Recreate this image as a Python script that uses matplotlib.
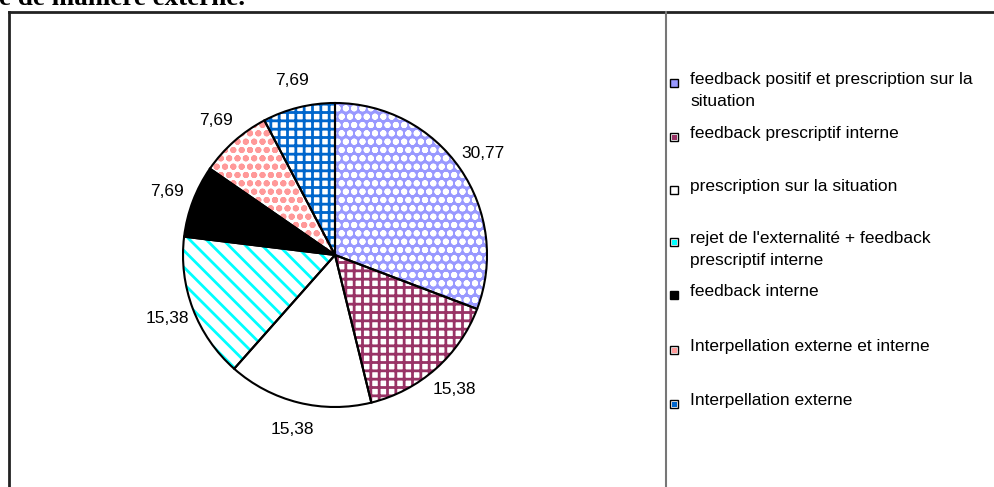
import matplotlib.pyplot as plt
from matplotlib.patches import Rectangle

plt.rcParams['font.family'] = ['Liberation Sans', 'DejaVu Sans']
plt.rcParams['hatch.linewidth'] = 2.0

# data
categories = [
    "feedback positif et prescription sur la\nsituation",
    "feedback prescriptif interne",
    "prescription sur la situation",
    "rejet de l'externalité + feedback\nprescriptif interne",
    "feedback interne",
    "Interpellation externe et interne",
    "Interpellation externe",
]
values = [30.77, 15.38, 15.38, 15.38, 7.69, 7.69, 7.69]
value_labels = ["30,77", "15,38", "15,38", "15,38", "7,69", "7,69", "7,69"]

# fill, hatch colour, hatch pattern
faces = ['#9999FF', 'white', 'white', 'white', 'black', 'white', 'white']
hatch_cols = ['white', '#993366', 'white', '#00FFFF', 'black', '#FF9999', '#0066CC']
hatches = ['oo', '++', None, '\\\\', None, 'oo', '++']

W, H = 994, 487
fig = plt.figure(figsize=(W / 100, H / 100), dpi=100)

# background axes in pixel units for frame and legend
bg = fig.add_axes([0, 0, 1, 1])
bg.set_xlim(0, W)
bg.set_ylim(H, 0)
bg.axis('off')
bg.plot([9, W], [12, 12], color='#222222', lw=2)
bg.plot([9, 9], [12, H], color='#222222', lw=2)
bg.plot([666, 666], [12, H], color='#777777', lw=1.5)

# cut-off heading
fig.text(-0.001, 1 - 5 / H, "e de manière externe.", fontsize=19.5, fontweight='bold',
         family=['Liberation Serif', 'DejaVu Serif'], va='baseline', ha='left')

# pie
cx, cy, r = 335, 255, 152
ax = fig.add_axes([(cx - r) / W, (H - cy - r) / H, 2 * r / W, 2 * r / H])

wedges, texts = ax.pie(values, labels=value_labels, startangle=90, counterclock=False,
                       radius=1, labeldistance=1.18,
                       textprops=dict(fontsize=12.5))
for w, fc, hc, hp in zip(wedges, faces, hatch_cols, hatches):
    w.set_facecolor(fc)
    w.set_edgecolor(hc)
    w.set_linewidth(0)
    if hp:
        w.set_hatch(hp)
for t in texts:
    t.set_ha('center')
    t.set_va('center')

ax.pie(values, startangle=90, counterclock=False, radius=1,
       wedgeprops=dict(facecolor='none', edgecolor='black', linewidth=1.5))
ax.set_xlim(-1, 1)
ax.set_ylim(-1, 1)
ax.set_aspect('equal')
ax.axis('off')

# legend
leg_y = [83, 137, 190, 242, 295, 350, 404]
for y, lab, fc, hc in zip(leg_y, categories, faces, hatch_cols):
    bg.add_patch(Rectangle((670, y - 4), 8, 8, facecolor=fc, edgecolor='black', lw=1))
    if fc == 'white' and hc != 'white':
        bg.add_patch(Rectangle((671.5, y - 2.5), 5, 5, facecolor=hc, edgecolor='none'))
    bg.text(690, y - 11, lab, fontsize=12.5, va='top', ha='left', linespacing=1.6)

fig.savefig('out.png', dpi=100)
